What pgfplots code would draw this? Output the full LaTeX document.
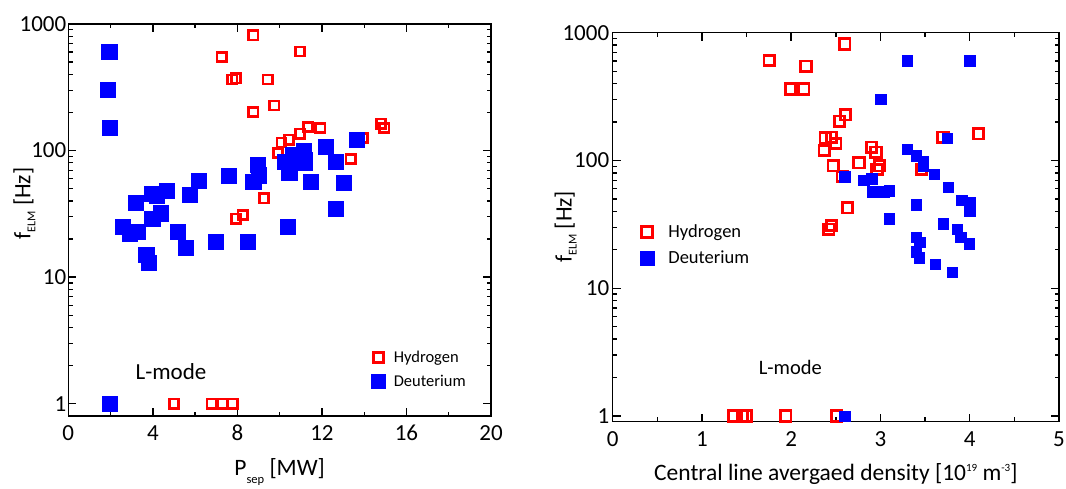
\documentclass[border=0pt]{standalone}
\usepackage{fontspec}
\setmainfont{Carlito}
\usepackage{pgfplots}
\pgfplotsset{compat=1.18}
\definecolor{hred}{RGB}{255,0,0}
\definecolor{dblue}{RGB}{0,0,255}
\newcommand{\fs}[1]{\fontsize{#1}{#1}\selectfont}
\begin{document}
\begin{tikzpicture}
\useasboundingbox (0pt,0pt) rectangle (1066pt,488pt);
% ---------------- left panel ----------------
\begin{axis}[at={(68.3pt,72pt)}, anchor=south west, width=422.7pt, height=392pt,
  scale only axis, ymode=log,
  axis line style={line width=1.5pt},
  axis on top,
  tick align=inside,
  major tick length=8pt, minor tick length=4.5pt,
  major tick style={line width=1.5pt, black},
  minor tick style={line width=1.3pt, black},
  /pgf/number format/assume math mode=true,
  tick label style={font=\fs{23}},
  label style={font=\fs{23.5}},
  legend cell align=left,
  xmin=0, xmax=20, ymin=0.8, ymax=1000,
  xtick={0,4,8,12,16,20}, minor xtick={2,6,10,14,18},
  ytick={1,10,100,1000}, yticklabels={1,10,100,1000},
  xticklabel style={anchor=base, yshift=-24pt},
  yticklabel style={xshift=1.5pt},
  xlabel={P\raisebox{-8pt}{\fs{12.5}sep} [MW]},
  ylabel={f\raisebox{-5pt}{\fs{12}ELM} [Hz]},
  xlabel style={at={(rel axis cs:0.5,0)}, anchor=base, inner sep=0pt, yshift=-59pt},
  ylabel style={at={(rel axis cs:0,0.542)}, anchor=base, inner sep=0pt, yshift=38pt},
  legend style={draw=none, fill=none, font=\fs{16.5}, at={(rel axis cs:0.71,0.177)}, anchor=north west, /tikz/row sep=7pt, /tikz/every odd column/.append style={column sep=7pt}},
]
\addplot[only marks, mark=square, color=hred, mark size=4.6pt, mark options={line width=2.6pt}, forget plot] table {
x y
8.75 815
7.26 550
10.96 607
7.76 364
7.93 373
9.43 364
9.75 227
8.75 201
14.8 163
14.95 151
13.93 126
11.35 153
11.92 151
10.96 136
10.45 122
10.09 116
9.93 96
11.28 86
13.36 86
9.26 42
8.25 31
7.93 29
5.0 1
6.78 1
7.30 1
7.78 1
};
\addplot[only marks, mark=square*, color=dblue, mark size=7.6pt, mark options={line width=0.3pt}, forget plot] table {
x y
1.93 609
1.85 303
1.97 151
13.64 122
12.16 108
12.65 82
11.12 99
11.17 81
10.64 93
10.33 82
10.45 67
10.25 82
11.2 85
10.49 70
8.97 77
8.99 64
8.75 56.5
7.57 63
6.15 58
11.47 57
13.04 56
4.65 48
3.97 46
4.18 44
5.76 45
3.19 39
4.37 32
3.97 29
12.65 35
2.57 25
2.89 22
3.27 23
5.17 23
10.36 25
6.97 19
8.47 19
5.57 17
3.68 15
3.79 13
1.97 1
};
\addlegendimage{only marks, mark=square, color=hred, mark size=5pt, mark options={line width=2.6pt}}
\addlegendentry{Hydrogen}
\addlegendimage{only marks, mark=square*, color=dblue, mark size=6.6pt, mark options={line width=0.3pt}}
\addlegendentry{Deuterium}
\node[font=\fs{23}, anchor=center] at (axis cs:4.86,1.78) {L-mode};
\end{axis}
% ---------------- right panel ----------------
\begin{axis}[at={(612.7pt,66.3pt)}, anchor=south west, width=446.3pt, height=389pt,
  scale only axis, ymode=log,
  axis line style={line width=1.5pt},
  axis on top,
  tick align=inside,
  major tick length=8pt, minor tick length=4.5pt,
  major tick style={line width=1.5pt, black},
  minor tick style={line width=1.3pt, black},
  /pgf/number format/assume math mode=true,
  tick label style={font=\fs{23}},
  label style={font=\fs{23.5}},
  legend cell align=left,
  xmin=0, xmax=5, ymin=0.903, ymax=1000,
  xtick={0,1,2,3,4,5}, minor xtick={0.5,1.5,2.5,3.5,4.5},
  ytick={1,10,100,1000}, yticklabels={1,10,100,1000},
  xticklabel style={anchor=base, yshift=-25pt},
  xlabel={Central line avergaed density [10\raisebox{9pt}{\fs{11}19} m\raisebox{9pt}{\fs{11}-3}]},
  ylabel={f\raisebox{-5pt}{\fs{12}ELM} [Hz]},
  xlabel style={at={(rel axis cs:0.5,0)}, anchor=base, inner sep=0pt, yshift=-59pt},
  ylabel style={at={(rel axis cs:0,0.501)}, anchor=base, inner sep=0pt, yshift=41pt},
  legend style={draw=none, fill=none, font=\fs{18.5}, at={(rel axis cs:0.054,0.517)}, anchor=north west, /tikz/row sep=8pt, /tikz/every odd column/.append style={column sep=12pt}},
]
\addplot[only marks, mark=square, color=hred, mark size=5.2pt, mark options={line width=2.8pt}, forget plot] table {
x y
2.60 817
1.754 604
2.166 546
1.99 363
2.14 363
2.54 203
2.61 228
3.70 152
4.10 162
2.38 150
2.45 152
2.50 136
2.37 120
2.90 127
2.95 116
2.76 96
2.47 91
2.99 91
2.96 85
3.46 85
2.57 75
2.63 42.7
2.45 31
2.42 29
1.36 1
1.45 1
1.50 1
1.94 1
2.51 1
};
\addplot[only marks, mark=square*, color=dblue, mark size=5.2pt, mark options={line width=0.3pt}, forget plot] table {
x y
3.30 604
4.00 604
3.00 303
3.75 150
3.30 123
3.40 109
3.48 99
3.48 90
3.60 78
2.60 75
2.81 70
2.90 72
3.76 62
2.91 57
3.00 57
3.04 57
3.10 58
3.91 49
4.00 47
4.00 40
3.40 45
3.10 35
3.70 32
3.86 29
3.90 25
3.99 22.4
3.40 25
3.44 23
3.40 19.4
3.43 17.4
3.61 15.5
3.80 13.3
2.60 1
};
\addlegendimage{only marks, mark=square, color=hred, mark size=5.6pt, mark options={line width=2.8pt}}
\addlegendentry{Hydrogen}
\addlegendimage{only marks, mark=square*, color=dblue, mark size=7.2pt, mark options={line width=0.3pt}}
\addlegendentry{Deuterium}
\node[font=\fs{20.5}, anchor=center] at (axis cs:1.99,2.39) {L-mode};
\end{axis}
\end{tikzpicture}
\end{document}
